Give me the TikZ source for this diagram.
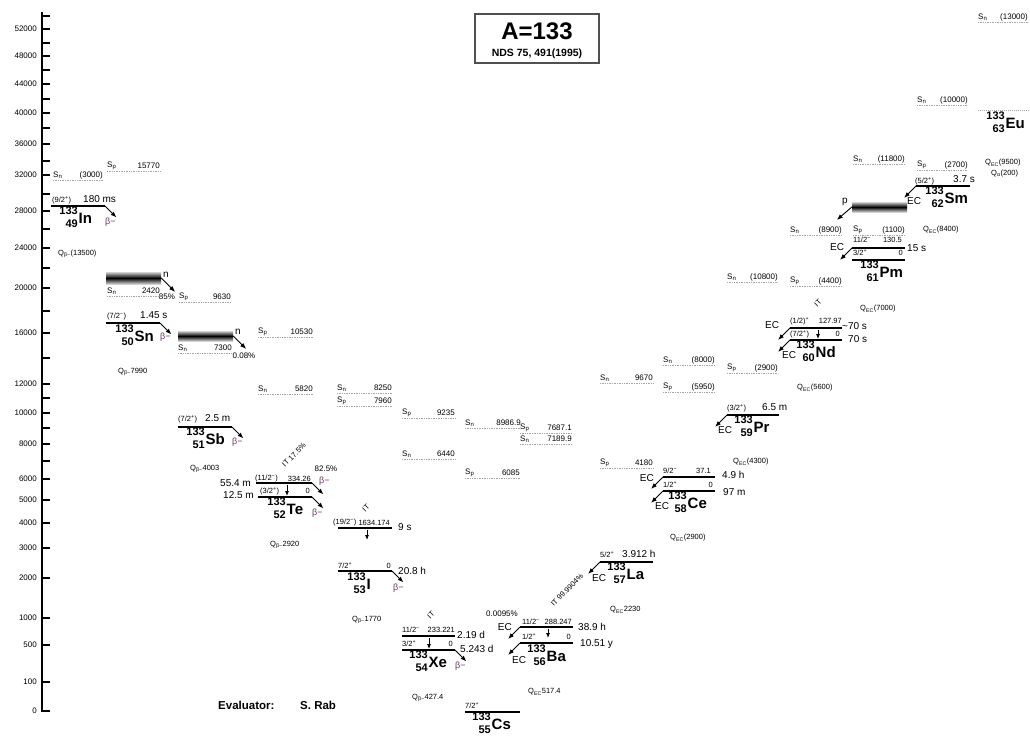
\documentclass[tikz,border=0pt]{standalone}
\usepackage{fontspec}
\setmainfont{Liberation Sans}
\usetikzlibrary{arrows.meta}
\definecolor{betacol}{RGB}{105,55,95}
\definecolor{dotcol}{RGB}{165,165,165}
\definecolor{framecol}{RGB}{80,80,80}
\tikzset{
 lab/.style={inner sep=0pt, font=\fontsize{8}{9}\selectfont},
 qlab/.style={inner sep=0pt, font=\fontsize{7.5}{8}\selectfont},
 axlab/.style={inner sep=0pt, font=\fontsize{8}{9}\selectfont},
 spin/.style={inner sep=0pt, font=\fontsize{7.5}{8}\selectfont},
 hl/.style={inner sep=0pt, font=\fontsize{10}{11}\selectfont},
 mass/.style={inner sep=0pt, font=\bfseries\fontsize{11}{12}\selectfont},
 elem/.style={inner sep=0pt, font=\bfseries\fontsize{15}{16}\selectfont},
 ecl/.style={inner sep=0pt, font=\fontsize{10}{11}\selectfont},
 bml/.style={inner sep=0pt, font=\fontsize{9}{10}\selectfont, text=betacol},
 itl/.style={inner sep=0pt, font=\fontsize{7.5}{8}\selectfont, rotate=45},
 level/.style={line width=1.3pt},
 dotlevel/.style={dotcol, line width=0.8pt, dash pattern=on 1pt off 1pt},
 sdot/.style={dotcol, line width=0.6pt, dash pattern=on 0.8pt off 0.9pt},
 decay/.style={line width=0.9pt, -{Latex[length=6pt,width=4.5pt]}},
 itdecay/.style={line width=0.8pt, -{Latex[length=5pt,width=4pt]}},
 axisl/.style={line width=1.2pt},
 unbound/.style={top color=gray!35, bottom color=gray!35, middle color=black, minimum width=55pt, inner sep=0pt},
}
% S value: name, x left, x right, y, subscript, value
\newcommand{\mySV}[6]{%
 \node[lab, anchor=west] (#1a) at (#2,#4) {S\textsubscript{#5}};
 \node[lab, anchor=east] (#1b) at (#3,#4) {#6};
 \draw[sdot] (#2,#4+5.5) -- (#3,#4+5.5);}
% Q value: name, x, y, subscript, value
\newcommand{\myQV}[5]{\node[qlab, anchor=west] (#1) at (#2,#3) {Q\textsubscript{#4}#5};}
% nuclide: name, x, baseline, Z, symbol
\newcommand{\myNUC}[5]{%
 \node[mass, anchor=base east] (#1A) at (#2,#3-9) {133};
 \node[mass, anchor=base east] (#1Z) at (#2,#3+4) {#4};
 \node[elem, anchor=base west] (#1E) at (#2+0.5,#3) {#5};}
% level: name, x left, x right, y
\newcommand{\myLVL}[4]{%
 \coordinate (#1L) at (#2,#4); \coordinate (#1R) at (#3,#4);
 \draw[level] (#1L) -- (#1R);}
\newcommand{\myBDK}[1]{\path (#1R) ++(11.5,11.5) coordinate (#1T); \draw[decay] (#1R) -- (#1T);}
\newcommand{\myECK}[1]{\path (#1L) ++(-12,12) coordinate (#1T); \draw[decay] (#1L) -- (#1T);}
\newcommand{\myIT}[4]{\coordinate (#1a) at (#2,#3); \coordinate (#1b) at (#2,#4); \draw[itdecay] (#1a) -- (#1b);}
\begin{document}
\begin{tikzpicture}[x=1pt,y=-1pt]
\useasboundingbox (0,0) rectangle (1030,736);
\fill[white] (0,0) rectangle (1030,736);

% axis
\draw[axisl] (42,12) -- (42,711) -- (50,711);
\foreach \yy/\lab in {29/52000,56/48000,84/44000,113/40000,144/36000,175/32000,211/28000,248/24000,288/20000,333/16000,384/12000,413/10000,444/8000,479/6000,500/5000,523/4000,548/3000,578/2000,618/1000,645/500,682/100,711/0}{
 \draw[axisl] (42,\yy) -- (50,\yy);
 \node[axlab, anchor=east] (t\lab) at (37,\yy) {\lab};}
\foreach \yy in {16,43,70,99,128,161,194,229,268,311,358,398,428,461}{\draw[axisl] (42,\yy) -- (50,\yy);}

% title
\node[draw=framecol, line width=1.2pt, minimum width=124pt, minimum height=49pt, inner sep=0pt] (title) at (537,38.5) {};
\node[inner sep=0pt, font=\bfseries\fontsize{24}{26}\selectfont] (titleA) at (537,31) {A=133};
\node[inner sep=0pt, font=\bfseries\fontsize{10.5}{12}\selectfont] (titleB) at (537,54) {NDS 75, 491(1995)};

% evaluator
\node[inner sep=0pt, anchor=west, font=\bfseries\fontsize{11.5}{13}\selectfont] (evalA) at (218,705) {Evaluator:};
\node[inner sep=0pt, anchor=west, font=\bfseries\fontsize{11.5}{13}\selectfont] (evalB) at (300,705) {S. Rab};

% ---------- In ----------
\mySV{InSn}{53}{103}{175}{n}{(3000)}
\mySV{InSp}{107}{160}{166}{p}{15770}
\myLVL{In}{51}{105}{206}
\myBDK{In}
\node[spin, anchor=west] (InJ) at (52,200.5) {(9/2\textsuperscript{+})};
\node[hl, anchor=west] (InT) at (83,199) {180 ms};
\node[bml, anchor=west] (InM) at (105,222) {β−};
\myNUC{In}{78}{223.5}{49}{In}
\myQV{InQ}{58}{254}{β−}{(13500)}

% ---------- Sn ----------
\node[unbound, minimum height=12pt] (SnBox) at (133.5,278) {};
\path (SnBox.east) ++(14,14) coordinate (SnBoxT);
\draw[decay] (SnBox.east) -- (SnBoxT);
\node[hl, anchor=west] (SnN) at (163,275) {n};
\node[lab] (Sn85) at (167,297) {85\%};
\mySV{SnSn}{107}{160}{291}{n}{2420}
\mySV{SnSp}{179}{231}{297}{p}{9630}
\myLVL{Sn}{106}{160}{323}
\myBDK{Sn}
\node[spin, anchor=west] (SnJ) at (107,317) {(7/2\textsuperscript{−})};
\node[hl, anchor=west] (SnT) at (140,315) {1.45 s};
\node[bml, anchor=west] (SnM) at (160,337) {β−};
\myNUC{Sn}{134}{341}{50}{Sn}
\myQV{SnQ}{118}{372}{β−}{7990}

% ---------- Sb ----------
\node[unbound, minimum height=10pt] (SbBox) at (205.5,336) {};
\path (SbBox.east) ++(13,13) coordinate (SbBoxT);
\draw[decay] (SbBox.east) -- (SbBoxT);
\node[hl, anchor=west] (SbN) at (235,332) {n};
\node[lab] (Sb008) at (244,356) {0.08\%};
\mySV{SbSn}{178}{232}{348}{n}{7300}
\mySV{SbSp}{258}{313}{332}{p}{10530}
\myLVL{Sb}{178}{232}{427}
\myBDK{Sb}
\node[spin, anchor=west] (SbJ) at (178,419) {(7/2\textsuperscript{+})};
\node[hl, anchor=west] (SbT) at (205,418) {2.5 m};
\node[bml, anchor=west] (SbM) at (232,442) {β−};
\myNUC{Sb}{205}{444}{51}{Sb}
\myQV{SbQ}{190}{469}{β−}{4003}

% ---------- Te ----------
\mySV{TeSn}{258}{313}{389}{n}{5820}
\myLVL{Tem}{256}{312}{483}
\myLVL{Te}{258}{312}{497}
\myBDK{Tem}
\myBDK{Te}
\myIT{TeIT}{287}{484.5}{496}
\node[itl] (TeITl) at (294,455) {IT 17.5\%};
\node[lab] (Te82) at (326,469) {82.5\%};
\node[spin, anchor=west] (TemJ) at (255,478.5) {(11/2\textsuperscript{−})};
\node[spin, anchor=east] (TemE) at (311,478.5) {334.26};
\node[spin, anchor=west] (TeJ) at (260,491) {(3/2\textsuperscript{+})};
\node[spin, anchor=east] (TeE) at (310,491) {0};
\node[hl, anchor=east] (TemT) at (251,483) {55.4 m};
\node[hl, anchor=east] (TeT) at (254,495) {12.5 m};
\node[bml, anchor=west] (TemM) at (319,481) {β−};
\node[bml, anchor=west] (TeM) at (312,513) {β−};
\myNUC{Te}{286}{514.5}{52}{Te}
\myQV{TeQ}{270}{545}{β−}{2920}

% ---------- I ----------
\mySV{ISn}{337}{392}{388}{n}{8250}
\mySV{ISp}{337}{392}{401}{p}{7960}
\myLVL{Im}{338}{392}{528}
\myLVL{I}{338}{392}{571}
\myBDK{I}
\myIT{IIT}{367}{529.5}{540}
\node[itl] (IITl) at (366,508) {IT};
\node[spin, anchor=west] (ImJ) at (333,522.5) {(19/2\textsuperscript{−})};
\node[spin, anchor=east] (ImE) at (390,522.5) {1634.174};
\node[spin, anchor=west] (IJ) at (338,565.5) {7/2\textsuperscript{+}};
\node[spin, anchor=east] (IE) at (391,565.5) {0};
\node[hl, anchor=west] (ImT) at (398,527) {9 s};
\node[hl, anchor=west] (IT) at (398,571) {20.8 h};
\node[bml, anchor=west] (IM) at (393,588) {β−};
\myNUC{I}{366}{589}{53}{I}
\myQV{IQ}{352}{620}{β−}{1770}

% ---------- Xe ----------
\mySV{XeSp}{402}{455}{413}{p}{9235}
\mySV{XeSn}{402}{455}{454}{n}{6440}
\myLVL{Xem}{402}{455}{636}
\myLVL{Xe}{402}{455}{650}
\myBDK{Xe}
\myIT{XeIT}{429}{637.5}{649}
\node[itl] (XeITl) at (431,615) {IT};
\node[spin, anchor=west] (XemJ) at (402,629.5) {11/2\textsuperscript{−}};
\node[spin, anchor=east] (XemE) at (455,629.5) {233.221};
\node[spin, anchor=west] (XeJ) at (402,644) {3/2\textsuperscript{+}};
\node[spin, anchor=east] (XeE) at (453,644) {0};
\node[hl, anchor=west] (XemT) at (457,635) {2.19 d};
\node[hl, anchor=west] (XeT) at (460,649) {5.243 d};
\node[bml, anchor=west] (XeM) at (455,666) {β−};
\myNUC{Xe}{428}{667}{54}{Xe}
\myQV{XeQ}{412}{698}{β−}{427.4}

% ---------- Cs ----------
\mySV{CsSn}{465}{521}{423}{n}{8986.9}
\mySV{CsSp}{465}{520}{473}{p}{6085}
\myLVL{Cs}{465}{520}{712}
\node[spin, anchor=west] (CsJ) at (465,705.5) {7/2\textsuperscript{+}};
\myNUC{Cs}{491}{729}{55}{Cs}

% ---------- Ba ----------
\mySV{BaSp}{520}{572}{428}{p}{7687.1}
\mySV{BaSn}{520}{572}{439}{n}{7189.9}
\myLVL{Bam}{520}{573}{627}
\myLVL{Ba}{520}{573}{643}
\myECK{Bam}
\myECK{Ba}
\myIT{BaIT}{548}{628.5}{638}
\node[itl] (BaITl) at (567,590) {IT 99.9904\%};
\node[lab] (Ba0095) at (502,614) {0.0095\%};
\node[ecl, anchor=east] (BamEC) at (512,627) {EC};
\node[ecl, anchor=west] (BaEC) at (512,660) {EC};
\node[spin, anchor=west] (BamJ) at (522,621.5) {11/2\textsuperscript{−}};
\node[spin, anchor=east] (BamE) at (572,621.5) {288.247};
\node[spin, anchor=west] (BaJ) at (522,637) {1/2\textsuperscript{+}};
\node[spin, anchor=east] (BaE) at (571,637) {0};
\node[hl, anchor=west] (BamT) at (578,627) {38.9 h};
\node[hl, anchor=west] (BaT) at (580,644) {10.51 y};
\myNUC{Ba}{546}{661}{56}{Ba}
\myQV{BaQ}{528}{692}{EC}{517.4}

% ---------- La ----------
\mySV{LaSn}{600}{653}{378}{n}{9670}
\mySV{LaSp}{600}{653}{463}{p}{4180}
\myLVL{La}{600}{653}{562}
\myECK{La}
\node[spin, anchor=west] (LaJ) at (600,555) {5/2\textsuperscript{+}};
\node[hl, anchor=west] (LaT) at (622,554) {3.912 h};
\node[ecl, anchor=west] (LaEC) at (592,578) {EC};
\myNUC{La}{626}{579}{57}{La}
\myQV{LaQ}{610}{610}{EC}{2230}

% ---------- Ce ----------
\mySV{CeSn}{663}{715}{360}{n}{(8000)}
\mySV{CeSp}{663}{715}{387}{p}{(5950)}
\myLVL{Cem}{663}{715}{477}
\myLVL{Ce}{663}{715}{491}
\myECK{Cem}
\myECK{Ce}
\node[ecl, anchor=east] (CemEC) at (654,478) {EC};
\node[ecl, anchor=west] (CeEC) at (655,506) {EC};
\node[spin, anchor=west] (CemJ) at (663,471) {9/2\textsuperscript{−}};
\node[spin, anchor=east] (CemE) at (711,471) {37.1};
\node[spin, anchor=west] (CeJ) at (663,485) {1/2\textsuperscript{+}};
\node[spin, anchor=east] (CeE) at (713,485) {0};
\node[hl, anchor=west] (CemT) at (722,475) {4.9 h};
\node[hl, anchor=west] (CeT) at (723,492) {97 m};
\myNUC{Ce}{687}{508}{58}{Ce}
\myQV{CeQ}{670}{538}{EC}{(2900)}

% ---------- Pr ----------
\mySV{PrSn}{727}{778}{277}{n}{(10800)}
\mySV{PrSp}{727}{778}{368}{p}{(2900)}
\myLVL{Pr}{727}{779}{415}
\myECK{Pr}
\node[spin, anchor=west] (PrJ) at (727,408) {(3/2\textsuperscript{+})};
\node[hl, anchor=west] (PrT) at (762,407) {6.5 m};
\node[ecl, anchor=west] (PrEC) at (718,430) {EC};
\myNUC{Pr}{753}{432}{59}{Pr}
\myQV{PrQ}{733}{462}{EC}{(4300)}

% ---------- Nd ----------
\mySV{NdSn}{790}{842}{230}{n}{(8900)}
\mySV{NdSp}{790}{842}{281}{p}{(4400)}
\myLVL{Ndm}{790}{842}{328}
\myLVL{Nd}{790}{842}{340}
\myECK{Ndm}
\myECK{Nd}
\myIT{NdIT}{818}{329.5}{339}
\node[itl] (NdITl) at (818,303) {IT};
\node[ecl, anchor=west] (NdmEC) at (765,325) {EC};
\node[ecl, anchor=west] (NdEC) at (782,355) {EC};
\node[spin, anchor=west] (NdmJ) at (790,321) {(1/2)\textsuperscript{+}};
\node[spin, anchor=east] (NdmE) at (842,321) {127.97};
\node[spin, anchor=west] (NdJ) at (790,334) {(7/2\textsuperscript{+})};
\node[spin, anchor=east] (NdE) at (840,334) {0};
\node[hl, anchor=west] (NdmT) at (842,326) {\textasciitilde70 s};
\node[hl, anchor=west] (NdT) at (848,339) {70 s};
\myNUC{Nd}{815}{357}{60}{Nd}
\myQV{NdQ}{797}{388}{EC}{(5600)}

% ---------- Pm ----------
\mySV{PmSn}{853}{905}{159}{n}{(11800)}
\mySV{PmSp}{853}{905}{230}{p}{(1100)}
\myLVL{Pmm}{852}{905}{248}
\myLVL{Pm}{852}{905}{260}
\myECK{Pmm}
\node[ecl, anchor=west] (PmEC) at (830,247) {EC};
\node[spin, anchor=west] (PmmJ) at (853,240) {11/2\textsuperscript{−}};
\node[spin, anchor=east] (PmmE) at (902,240) {130.5};
\node[spin, anchor=west] (PmJ) at (853,253) {3/2\textsuperscript{+}};
\node[spin, anchor=east] (PmE) at (903,253) {0};
\node[hl, anchor=west] (PmmT) at (907,248) {15 s};
\myNUC{Pm}{879}{277.5}{61}{Pm}
\myQV{PmQ}{860}{309}{EC}{(7000)}
\node[unbound, minimum height=10pt] (PmBox) at (879.5,207) {};
\path (PmBox.west) ++(-15,13) coordinate (PmBoxT);
\draw[decay] (PmBox.west) -- (PmBoxT);
\node[hl, anchor=west] (PmP) at (842,202) {p};

% ---------- Sm ----------
\mySV{SmSn}{917}{968}{100}{n}{(10000)}
\mySV{SmSp}{917}{968}{165}{p}{(2700)}
\myLVL{Sm}{916}{970}{186}
\myECK{Sm}
\node[spin, anchor=west] (SmJ) at (915,181) {(5/2\textsuperscript{+})};
\node[hl, anchor=west] (SmT) at (953,179) {3.7 s};
\node[ecl, anchor=west] (SmEC) at (907,201) {EC};
\myNUC{Sm}{944}{203}{62}{Sm}
\myQV{SmQ}{923}{230}{EC}{(8400)}

% ---------- Eu ----------
\mySV{EuSn}{978}{1028}{17}{n}{(13000)}
\coordinate (EuL) at (978,110); \coordinate (EuR) at (1030,110);
\draw[dotlevel] (EuL) -- (EuR);
\myNUC{Eu}{1005}{128}{63}{Eu}
\myQV{EuQ}{985}{163}{EC}{(9500)}
\myQV{EuQa}{991}{174}{α}{(200)}
\end{tikzpicture}
\end{document}
